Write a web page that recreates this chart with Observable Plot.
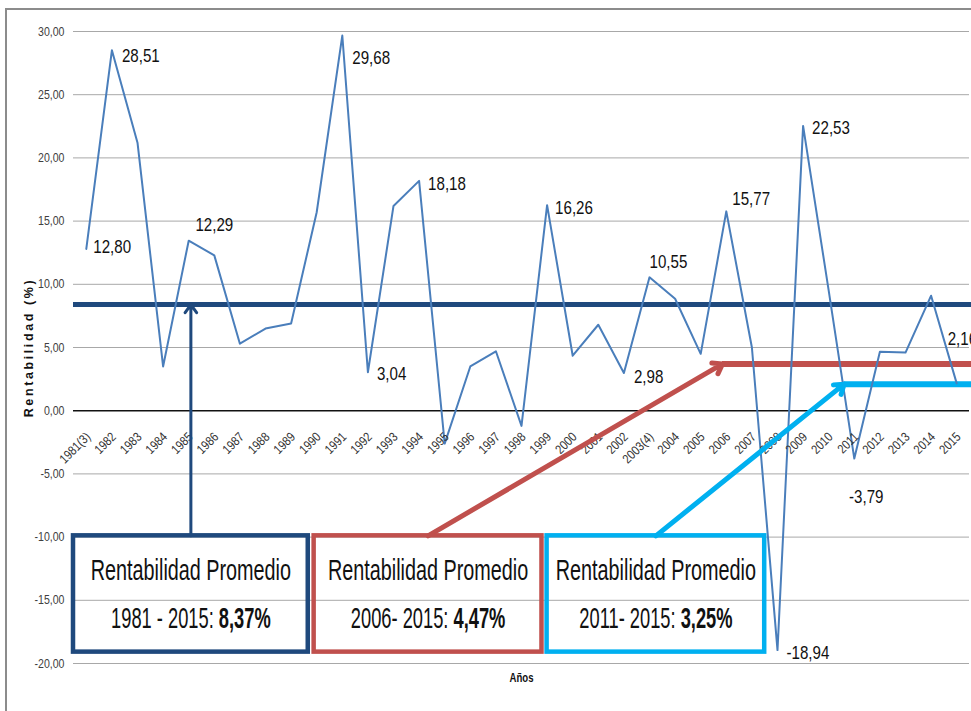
<!DOCTYPE html>
<html>
<head>
<meta charset="utf-8">
<script src="https://cdn.jsdelivr.net/npm/d3@7"></script>
<script src="https://cdn.jsdelivr.net/npm/@observablehq/plot@0.6"></script>
<style>
  html, body { margin: 0; padding: 0; background: #fff; }
  #wrap { position: relative; width: 971px; height: 711px; overflow: hidden; }
  #frame { position: absolute; left: 5px; top: 8px; width: 1200px; height: 1200px;
           border-left: 2px solid #8c8c8c; border-top: 2px solid #8c8c8c; pointer-events: none; }
  #chart { position: absolute; left: 0; top: 0; }
</style>
</head>
<body>
<div id="wrap"><div id="chart"></div><div id="frame"></div></div>
<script>
// ---------- data ----------
const years = ["1981(3)","1982","1983","1984","1985","1986","1987","1988","1989","1990",
  "1991","1992","1993","1994","1995","1996","1997","1998","1999","2000",
  "2001","2002","2003(4)","2004","2005","2006","2007","2008","2009","2010",
  "2011","2012","2013","2014","2015"];
const rentabilidad = [12.80, 28.51, 21.2, 3.5, 13.45, 12.29, 5.3, 6.5, 6.9, 15.7,
  29.68, 3.04, 16.2, 18.18, -2.6, 3.5, 4.7, -1.2, 16.26, 4.35,
  6.8, 2.98, 10.55, 8.86, 4.5, 15.77, 5.0, -18.94, 22.53, 9.5,
  -3.79, 4.67, 4.6, 9.1, 2.16];
const labeledYears = ["1981(3)","1982","1986","1991","1992","1994","1999","2002","2003(4)","2006","2008","2009","2011","2015"];
const yTicks = [-20, -15, -10, -5, 0, 5, 10, 15, 20, 25, 30];
const periodos = ["1981 - 2015", "2006- 2015", "2011- 2015"];
const promedios = [8.37, 4.47, 3.25];
const nivelesDibujados = [8.4, 3.7, 2.1];   // levels at which the average lines are drawn
const desde = ["1981(3)", "2006", "2011"];

// ---------- layout / style ----------
const SANS = "'Liberation Sans',Arial,sans-serif";
const fmt = d => d.toFixed(2).replace(".", ",");
const colors = ["#1f497d", "#c0504d", "#00b0f0"];
const lineWidths = [5, 6, 6];
const arrowWidths = [3, 5, 5];
// annotation boxes in data units (x = year index, y = %)
const boxX = [[-0.5, 8.67], [8.9, 17.8], [18.0, 26.5]];
const boxY = [-19.1, -9.9];
const tipShift = [0, -0.15, -0.4];
const labelOffsets = {
  "1981(3)": [7, -2, "start"], "1982": [10, 6, "start"], "1986": [0, -30, "middle"],
  "1991": [10, 23, "start"], "1992": [9, 2, "start"], "1994": [9, 3, "start"],
  "1999": [8, 3, "start"], "2002": [10, 4, "start"], "2003(4)": [0, -15, "start"],
  "2006": [6, -12, "start"], "2008": [9, 3, "start"], "2009": [9, 2, "start"],
  "2011": [12, 39, "middle"], "2015": [-9, -44, "start"]
};

const table = years.map((year, i) => ({year, i, value: rentabilidad[i]}));
const avg = periodos.map((p, k) => {
  const start = years.indexOf(desde[k]);
  const cx = (boxX[k][0] + boxX[k][1]) / 2;
  const tipX = k === 0 ? cx : start + tipShift[k];
  return {
    k, periodo: p, valor: promedios[k], nivel: nivelesDibujados[k],
    x1: k === 0 ? -0.5 : tipX, x2: 34.6,
    bx1: boxX[k][0], bx2: boxX[k][1], cx, tipX,
    line2: `${p}: ${fmt(promedios[k])}%`
  };
});

const marks = [
  Plot.ruleY(yTicks.filter(d => d !== 0), {stroke: "#a8a8a8", strokeWidth: 1}),
  Plot.ruleY([0], {stroke: "#111", strokeWidth: 1.5}),
  Plot.axisY(yTicks, {tickSize: 0, tickPadding: 9, tickFormat: fmt, fontSize: 12.6,
    fontFamily: SANS, fill: "#404040", label: null}),
  ...avg.map(a => Plot.ruleY([a], {y: "nivel", x1: "x1", x2: "x2", stroke: colors[a.k], strokeWidth: lineWidths[a.k]})),
  Plot.line(table, {x: "i", y: "value", stroke: "#4a7ebb", strokeWidth: 2}),
  Plot.text(table, {x: "i", y: () => 0, text: "year", rotate: -45, textAnchor: "end",
    dx: 2, dy: 24, fontSize: 13, fontFamily: SANS, fill: "#333"}),
  ...avg.map(a => Plot.arrow([a], {x1: "cx", y1: () => boxY[1], x2: "tipX", y2: "nivel",
    stroke: colors[a.k], strokeWidth: arrowWidths[a.k], headLength: a.k === 0 ? 5 : 3.2, headAngle: 70})),
  ...avg.map(a => Plot.rect([a], {x1: "bx1", x2: "bx2", y1: () => boxY[0], y2: () => boxY[1],
    fill: "none", stroke: colors[a.k], strokeWidth: 4.5})),
  Plot.text(avg, {x: "cx", y: () => -12.66, text: () => "Rentabilidad Promedio",
    fontSize: 30, fontFamily: SANS, fill: "#111"}),
  Plot.text(avg, {x: "cx", y: () => -16.4, text: "line2",
    fontSize: 30, fontFamily: SANS, fill: "#111"}),
  ...labeledYears.map(yr => {
    const d = table.find(t => t.year === yr);
    const [dx, dy, anchor] = labelOffsets[yr];
    return Plot.text([d], {x: "i", y: "value", text: t => fmt(t.value), dx, dy, textAnchor: anchor,
      fontSize: 18, fontFamily: SANS, fill: "#111"});
  }),
  Plot.text(["Rentabilidad (%)"], {frameAnchor: "left", textAnchor: "middle", rotate: -90, dx: -45, dy: 0,
    fontSize: 12.5, fontWeight: "bold", fontFamily: SANS, fill: "#111"}),
  Plot.text(["Años"], {frameAnchor: "bottom", textAnchor: "middle", dy: 18, fontSize: 12, fontWeight: "bold",
    fontFamily: SANS, fill: "#111"})
];

const plot = Plot.plot({
  width: 971, height: 711,
  marginLeft: 73, marginRight: 2, marginTop: 31, marginBottom: 48,
  x: {type: "linear", domain: [-0.5, 34.5], axis: null},
  y: {domain: [-20, 30], axis: null},
  style: {background: "transparent", overflow: "visible"},
  marks
});

// ---------- typographic post-processing (condensed look, mixed weights) ----------
const SVGNS = "http://www.w3.org/2000/svg";
function squeeze(t, sx) {
  const tr = t.getAttribute("transform") || "";
  t.setAttribute("transform", `${tr} scale(${sx},1)`);
}
const line2Set = new Set(avg.map(a => a.line2));
plot.querySelectorAll("text").forEach(t => {
  const s = t.textContent;
  if (s === "Rentabilidad Promedio") { squeeze(t, 0.66); return; }
  if (line2Set.has(s)) {
    const j = s.lastIndexOf(": ") + 2;
    t.textContent = "";
    t.style.whiteSpace = "pre";
    const a = document.createElementNS(SVGNS, "tspan"); a.textContent = s.slice(0, j);
    const b = document.createElementNS(SVGNS, "tspan"); b.textContent = s.slice(j);
    b.setAttribute("font-weight", "bold");
    t.append(a, b);
    squeeze(t, 0.61);
    return;
  }
  if (s === "Rentabilidad (%)") { t.setAttribute("letter-spacing", "2.6"); return; }
  if (s === "Años") { squeeze(t, 0.8); return; }
  squeeze(t, 0.84);
});

document.getElementById("chart").append(plot);
</script>
</body>
</html>
